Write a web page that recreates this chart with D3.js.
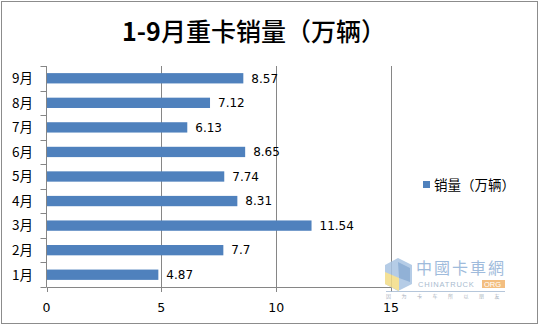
<!DOCTYPE html>
<html>
<head>
<meta charset="utf-8">
<script src="https://cdn.jsdelivr.net/npm/d3@7/dist/d3.min.js"></script>
<style>
  html, body { margin: 0; padding: 0; background: #fff; }
  svg { display: block; }
</style>
</head>
<body>
<svg id="chart" width="541" height="326"></svg>
<script>
// Monthly heavy-truck sales, in units of 10,000 vehicles
const months = ["1月", "2月", "3月", "4月", "5月", "6月", "7月", "8月", "9月"];
const sales = [4.87, 7.7, 11.54, 8.31, 7.74, 8.65, 6.13, 7.12, 8.57];
const xTicks = [0, 5, 10, 15];
const titleText = "1-9月重卡销量（万辆）";
const seriesName = "销量（万辆）";

const W = 541, H = 326;
const plot = { left: 46.5, right: 391, top: 66, bottom: 287 };
const barColor = "#4F81BD";
const axisColor = "#868686";
const cjk = "'Noto Sans CJK SC', 'Noto Sans', sans-serif";
const num = "'DejaVu Sans', 'Liberation Sans', sans-serif";

const svg = d3.select("#chart");

// outer frame
svg.append("rect")
  .attr("x", 1.5).attr("y", 1.5).attr("width", W - 5).attr("height", H - 4)
  .attr("fill", "#fff").attr("stroke", "#8c8c8c").attr("stroke-width", 1);

// title: the leading digits are set heavier than the CJK part
const titleParts = titleText.match(/^([0-9\-]+)(.*)$/);
const title = svg.append("text")
  .attr("x", 254).attr("y", 41)
  .attr("text-anchor", "middle")
  .attr("font-family", cjk).attr("font-size", 25)
  .attr("fill", "#000");
title.append("tspan").attr("font-weight", "bold").text(titleParts[1]);
title.append("tspan").attr("font-weight", 500).text(titleParts[2]);

const x = d3.scaleLinear().domain([0, 15]).range([plot.left, plot.right]);
const y = d3.scaleBand().domain(months.slice().reverse())
  .range([plot.top, plot.bottom]).paddingInner(0.58).paddingOuter(0.29);
const yEdge = d3.scaleBand().domain(months.slice().reverse())
  .range([plot.top, plot.bottom]).padding(0);

// vertical gridlines
svg.append("g").selectAll("line")
  .data(xTicks.filter(d => d > 0))
  .join("line")
  .attr("x1", d => Math.round(x(d)) + 0.5).attr("x2", d => Math.round(x(d)) + 0.5)
  .attr("y1", plot.top).attr("y2", plot.bottom)
  .attr("stroke", axisColor).attr("stroke-width", 1);

// bars
svg.append("g").selectAll("rect")
  .data(months.map((m, i) => ({ m, v: sales[i] })))
  .join("rect")
  .attr("x", x(0))
  .attr("y", d => y(d.m))
  .attr("width", d => x(d.v) - x(0))
  .attr("height", y.bandwidth())
  .attr("fill", barColor);

// value labels
svg.append("g").selectAll("text")
  .data(months.map((m, i) => ({ m, v: sales[i] })))
  .join("text")
  .attr("x", d => x(d.v) + 8)
  .attr("y", d => y(d.m) + y.bandwidth() / 2)
  .attr("dy", "0.36em")
  .attr("font-family", num).attr("font-size", 12)
  .attr("fill", "#000")
  .text(d => String(d.v));

// left (category) axis
const yAxis = svg.append("g");
yAxis.append("line")
  .attr("x1", plot.left).attr("x2", plot.left)
  .attr("y1", plot.top).attr("y2", plot.bottom)
  .attr("stroke", axisColor);
yAxis.selectAll("line.tick")
  .data(months.concat(["end"]))
  .join("line").attr("class", "tick")
  .attr("x1", plot.left - 6).attr("x2", plot.left)
  .attr("y1", (d, i) => Math.round(plot.top + i * yEdge.step()) + 0.5)
  .attr("y2", (d, i) => Math.round(plot.top + i * yEdge.step()) + 0.5)
  .attr("stroke", axisColor);
yAxis.selectAll("text")
  .data(months)
  .join("text")
  .attr("x", 33)
  .attr("y", d => y(d) + y.bandwidth() / 2)
  .attr("dy", "0.36em")
  .attr("text-anchor", "end")
  .attr("font-family", cjk).attr("font-size", 13.5)
  .attr("fill", "#000")
  .text(d => d);

// bottom (value) axis
const xAxis = svg.append("g");
xAxis.append("line")
  .attr("x1", plot.left).attr("x2", plot.right)
  .attr("y1", plot.bottom + 0.5).attr("y2", plot.bottom + 0.5)
  .attr("stroke", axisColor);
xAxis.selectAll("line.tick")
  .data(xTicks)
  .join("line").attr("class", "tick")
  .attr("x1", d => Math.round(x(d)) + 0.5).attr("x2", d => Math.round(x(d)) + 0.5)
  .attr("y1", plot.bottom).attr("y2", plot.bottom + 5)
  .attr("stroke", axisColor);
xAxis.selectAll("text")
  .data(xTicks)
  .join("text")
  .attr("x", d => x(d))
  .attr("y", 312)
  .attr("text-anchor", "middle")
  .attr("font-family", num).attr("font-size", 12.5)
  .attr("fill", "#000")
  .text(d => d);

// legend
const legend = svg.append("g");
legend.append("rect")
  .attr("x", 423).attr("y", 181).attr("width", 7).attr("height", 7)
  .attr("fill", barColor);
legend.append("text")
  .attr("x", 434).attr("y", 185).attr("dy", "0.36em")
  .attr("font-family", cjk).attr("font-size", 13.5)
  .attr("fill", "#000")
  .text(seriesName);

// site mark, lower right
const mark = svg.append("g").attr("opacity", 0.85);
mark.append("polygon")
  .attr("points", "398,258 412,265 412,284 398,291 385,284 385,265")
  .attr("fill", "#a9c4e2");
mark.append("polygon")
  .attr("points", "385,272 399,278 399,291 385,284")
  .attr("fill", "#f3dc86");
mark.append("polygon")
  .attr("points", "398,262 410,268 410,282 399,278")
  .attr("fill", "#7ea4d0");
mark.append("text")
  .attr("x", 416).attr("y", 274)
  .attr("font-family", cjk).attr("font-size", 16)
  .attr("fill", "#8fb0d6")
  .attr("letter-spacing", 2)
  .text("中國卡車網");
mark.append("text")
  .attr("x", 418).attr("y", 287)
  .attr("font-family", "'Liberation Sans', sans-serif").attr("font-size", 7.5)
  .attr("fill", "#9ab0c8")
  .attr("letter-spacing", 0.8)
  .text("CHINATRUCK");
mark.append("rect")
  .attr("x", 482).attr("y", 280).attr("width", 23).attr("height", 8)
  .attr("fill", "#f2b36a");
mark.append("text")
  .attr("x", 484).attr("y", 287)
  .attr("font-family", "'Liberation Sans', sans-serif").attr("font-size", 7.5)
  .attr("fill", "#fff")
  .text("ORG");
mark.append("line")
  .attr("x1", 386).attr("x2", 505).attr("y1", 291.5).attr("y2", 291.5)
  .attr("stroke", "#a9bdd4");
mark.append("text")
  .attr("x", 386).attr("y", 298)
  .attr("font-family", cjk).attr("font-size", 5)
  .attr("fill", "#9aa6b4")
  .attr("letter-spacing", 10.5)
  .text("因为卡车所以朋友");
</script>
</body>
</html>
